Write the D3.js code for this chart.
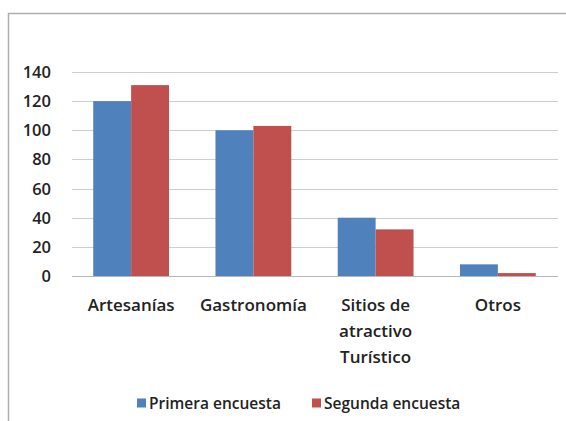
<!DOCTYPE html>
<html>
<head>
<meta charset="utf-8">
<script src="https://cdn.jsdelivr.net/npm/d3@7"></script>
<style>
  body { margin: 0; background: #fff; }
  svg text { font-family: "Open Sans", sans-serif; fill: #222; }
</style>
</head>
<body>
<div id="chart"></div>
<script>
var categories = ["Artesanías", "Gastronomía", "Sitios de\natractivo\nTurístico", "Otros"]
var seriesNames = ["Primera encuesta", "Segunda encuesta"]
var primera = [120, 100, 40, 8]
var segunda = [131, 103, 32, 2]
var yTicks = [0, 20, 40, 60, 80, 100, 120, 140]
var colors = ["#4f81bd", "#c0504d"]

var width = 566, height = 421

var svg = d3.select("#chart")
    .append("svg")
    .attr("width", width)
    .attr("height", height)

// chart area border (only left + top fall inside the picture)
svg.append("rect")
    .attr("x", 8.5).attr("y", 13.5)
    .attr("width", 600).attr("height", 420)
    .attr("fill", "#fff")
    .attr("stroke", "#aeaeae")
    .attr("stroke-width", 1.5)

var x = d3.scaleBand()
    .domain(categories)
    .range([70, 559])
    .paddingInner(0.38)
    .paddingOuter(0.19)

var y = d3.scaleLinear()
    .domain([0, 140])
    .range([276, 72])

var x1 = d3.scaleBand()
    .domain(seriesNames)
    .range([0, x.bandwidth()])

// gridlines
svg.append("g")
    .selectAll("line")
    .data(yTicks)
    .enter()
    .append("line")
    .attr("x1", 72).attr("x2", 558)
    .attr("y1", (d) => Math.round(y(d)) + 0.5)
    .attr("y2", (d) => Math.round(y(d)) + 0.5)
    .attr("stroke", (d) => d === 0 ? "#b8b8b8" : "#cdcdcd")
    .attr("stroke-width", 1.2)

// y labels
svg.append("g")
    .selectAll("text")
    .data(yTicks)
    .enter()
    .append("text")
    .attr("x", 51)
    .attr("y", (d) => y(d))
    .attr("dy", "0.36em")
    .attr("text-anchor", "end")
    .attr("font-size", 16.5)
    .attr("font-weight", 600)
    .text((d) => d)

// bars
var groups = svg.append("g")
    .selectAll("g")
    .data(categories)
    .enter()
    .append("g")
    .attr("transform", (d) => "translate(" + x(d) + ",0)")

groups.selectAll("rect")
    .data((d, i) => [primera[i], segunda[i]].map((v, j) => ({ name: seriesNames[j], value: v })))
    .enter()
    .append("rect")
    .attr("x", (d) => x1(d.name))
    .attr("y", (d) => y(d.value))
    .attr("width", x1.bandwidth())
    .attr("height", (d) => y(0) - y(d.value))
    .attr("fill", (d) => colors[seriesNames.indexOf(d.name)])

// category labels
svg.append("g")
    .selectAll("text")
    .data(categories)
    .enter()
    .append("text")
    .attr("text-anchor", "middle")
    .attr("font-size", 17)
    .attr("font-weight", 600)
    .each(function(d) {
        var lines = d.split("\n")
        var t = d3.select(this)
        lines.forEach((line, k) => {
            t.append("tspan")
                .attr("x", x(d) + x.bandwidth() / 2)
                .attr("y", 311 + k * 26)
                .text(line)
        })
    })

// legend
var legendX = [137, 312]
var legend = svg.append("g")
    .selectAll("g")
    .data(seriesNames)
    .enter()
    .append("g")
    .attr("transform", (d, i) => "translate(" + legendX[i] + ",403)")

legend.append("rect")
    .attr("x", 0).attr("y", -4.5)
    .attr("width", 9).attr("height", 9)
    .attr("fill", (d, i) => colors[i])

legend.append("text")
    .attr("x", 12)
    .attr("dy", "0.36em")
    .attr("font-size", 15.5)
    .attr("font-weight", 600)
    .text((d) => d)
</script>
</body>
</html>
